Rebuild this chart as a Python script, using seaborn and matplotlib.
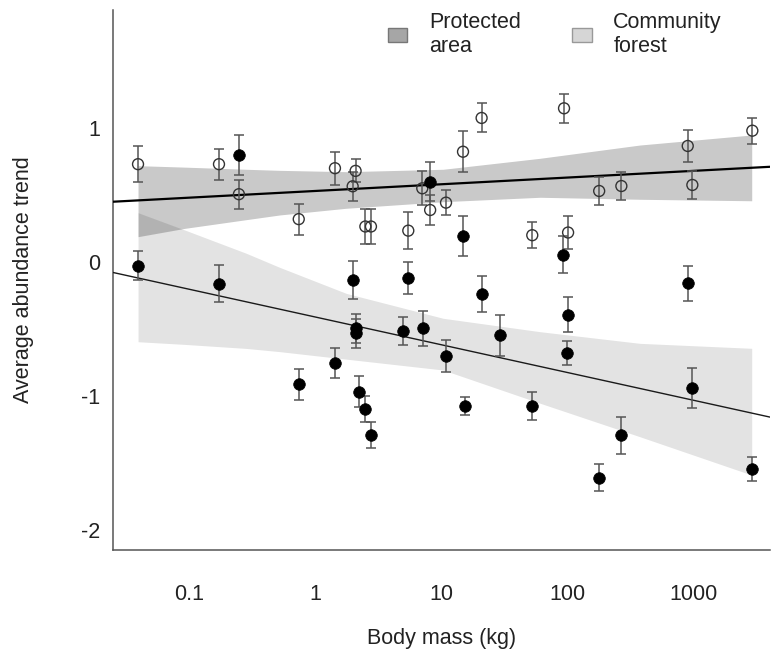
import numpy as np
import pandas as pd
import matplotlib
matplotlib.use("Agg")
import matplotlib.pyplot as plt
from matplotlib.patches import Patch
import seaborn as sns

# Species body mass (kg), average abundance trend and its standard error
pa_mass = [0.0394, 0.173, 0.249, 0.743, 1.44, 1.99, 2.10, 2.51, 2.78, 5.5, 7.1, 8.2,
           10.96, 14.95, 21.0, 53, 94.7, 102, 180, 270, 908, 988, 2957]
pa_trend = [0.73, 0.73, 0.506, 0.32, 0.70, 0.565, 0.68, 0.265, 0.265, 0.234, 0.55, 0.388,
            0.443, 0.823, 1.075, 0.20, 1.147, 0.22, 0.53, 0.567, 0.866, 0.575, 0.98]
pa_se = [0.134, 0.116, 0.107, 0.116, 0.122, 0.11, 0.085, 0.127, 0.127, 0.137, 0.128, 0.112,
         0.093, 0.153, 0.108, 0.097, 0.11, 0.12, 0.105, 0.106, 0.117, 0.104, 0.097]

cf_mass = [0.0396, 0.174, 0.251, 0.743, 1.44, 1.99, 2.1, 2.1, 2.25, 2.49, 2.77, 4.97,
           5.5, 7.16, 8.2, 10.9, 14.95, 15.5, 21, 29.6, 53, 93.5, 99.3, 102, 180, 270,
           908, 988, 2957]
cf_trend = [-0.028, -0.164, 0.80, -0.913, -0.756, -0.134, -0.495, -0.532, -0.968, -1.097,
            -1.291, -0.515, -0.12, -0.495, 0.60, -0.701, 0.194, -1.075, -0.241, -0.547,
            -1.075, 0.055, -0.677, -0.393, -1.61, -1.294, -0.159, -0.938, -1.545]
cf_se = [0.108, 0.138, 0.15, 0.116, 0.112, 0.14, 0.11, 0.11, 0.116, 0.1, 0.096, 0.106,
         0.118, 0.13, 0.147, 0.12, 0.146, 0.065, 0.133, 0.155, 0.103, 0.139, 0.088, 0.129,
         0.1, 0.14, 0.13, 0.15, 0.087]

# Regression on log10 body mass: trend = intercept + slope * log10(mass)
pa_intercept, pa_slope = 0.53, 0.05
cf_intercept, cf_slope = -0.41, -0.207

# Confidence bands of the two fits, evaluated at these masses
band_mass = [0.0394, 0.0925, 0.285, 0.525, 1.77, 10.4, 61.1, 379, 2924]
pa_band_low = [0.189, 0.251, 0.316, 0.351, 0.401, 0.450, 0.483, 0.468, 0.457]
pa_band_high = [0.719, 0.708, 0.692, 0.684, 0.674, 0.692, 0.774, 0.873, 0.948]
cf_band_low = [-0.595, -0.615, -0.645, -0.669, -0.725, -0.806, -1.054, -1.304, -1.590]
cf_band_high = [0.368, 0.239, 0.065, -0.04, -0.234, -0.420, -0.520, -0.607, -0.644]

x_ticks = [0.1, 1, 10, 100, 1000]
x_ticklabels = ["0.1", "1", "10", "100", "1000"]
y_ticks = [-2, -1, 0, 1]
y_ticklabels = ["-2", "-1", "0", "1"]
group_labels = ["Protected\narea", "Community\nforest"]

sns.set_theme(style="white")
plt.rcParams["font.family"] = ["Liberation Sans", "DejaVu Sans"]
FS = 15.5
TXT = "#222222"

fig = plt.figure(figsize=(7.71, 6.6), dpi=100)
ax = fig.add_axes([113 / 771, 1 - 549.5 / 660, 657 / 771, 539.5 / 660])
ax.set_xscale("log")
xmin, xmax = 0.02494, 4083
ax.set_xlim(xmin, xmax)
ax.set_ylim(-2.1455, 1.8806)

# confidence bands
ax.fill_between(band_mass, cf_band_low, cf_band_high, color="black", alpha=0.11,
                lw=0, zorder=1)
ax.fill_between(band_mass, pa_band_low, pa_band_high, color="black", alpha=0.21,
                lw=0, zorder=1)

# fitted lines across the whole mass range
grid = np.logspace(np.log10(xmin), np.log10(xmax), 60)
lines = pd.DataFrame({
    "mass": grid,
    "pa": pa_intercept + pa_slope * np.log10(grid),
    "cf": cf_intercept + cf_slope * np.log10(grid),
})
sns.lineplot(data=lines, x="mass", y="pa", color="black", lw=1.6, ax=ax, zorder=3)
sns.lineplot(data=lines, x="mass", y="cf", color="#1a1a1a", lw=1.0, ax=ax, zorder=3)

# error bars and points
ebar = dict(fmt="none", ecolor="#555555", elinewidth=1.1, capsize=3.8, capthick=1.1,
            zorder=4)
ax.errorbar(pa_mass, pa_trend, yerr=pa_se, **ebar)
ax.errorbar(cf_mass, cf_trend, yerr=cf_se, **ebar)
sns.scatterplot(x=pa_mass, y=pa_trend, marker="o", s=62, facecolor="none",
                edgecolor="#333333", linewidth=1.0, ax=ax, zorder=5)
sns.scatterplot(x=cf_mass, y=cf_trend, marker="o", s=70, color="black",
                edgecolor="black", linewidth=0.5, ax=ax, zorder=5)

# axes styling
for side in ["top", "right"]:
    ax.spines[side].set_visible(False)
for side in ["left", "bottom"]:
    ax.spines[side].set_color("#555555")
    ax.spines[side].set_linewidth(1.1)
ax.set_xticks(x_ticks)
ax.set_xticklabels(x_ticklabels)
ax.set_yticks(y_ticks)
ax.set_yticklabels(y_ticklabels)
ax.minorticks_off()
ax.tick_params(axis="both", direction="in", length=8.6, width=1.0, color="#555555",
               labelsize=FS, labelcolor=TXT)
ax.tick_params(axis="x", pad=25)
ax.tick_params(axis="y", pad=9)
ax.set_xlabel("Body mass (kg)", fontsize=FS, color=TXT)
ax.set_ylabel("Average abundance trend", fontsize=FS, color=TXT)
ax.xaxis.set_label_coords(0.5, -0.145)
ax.yaxis.set_label_coords(-0.12, 0.5)

handles = [Patch(facecolor="#a6a6a6", edgecolor="#777777", lw=1.0),
           Patch(facecolor="#d6d6d6", edgecolor="#999999", lw=1.0)]
leg = fig.legend(handles, group_labels, loc="upper left",
                 bbox_to_anchor=(388 / 771, 1 - 12 / 660), ncol=2, frameon=False,
                 fontsize=FS, handlelength=0.9, handleheight=0.6, handletextpad=1.0,
                 columnspacing=2.4, borderpad=0, borderaxespad=0, labelcolor=TXT)

fig.savefig("out.png", dpi=100)
